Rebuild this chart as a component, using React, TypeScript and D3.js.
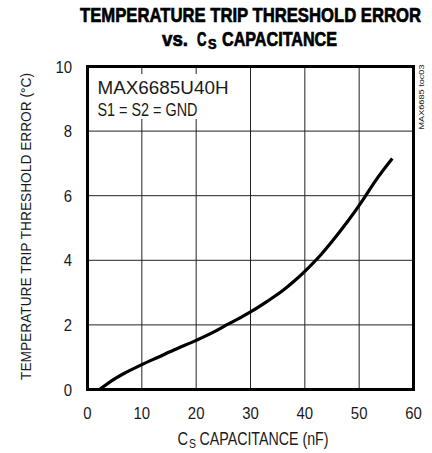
import { useEffect, useRef } from "react";
import * as d3 from "d3";

const W = 432;
const H = 453;
const margin = { top: 66.5, bottom: 63.5, left: 87.5, right: 18.5 };

const X_TICKS: number[] = [0, 10, 20, 30, 40, 50, 60];
const Y_TICKS: number[] = [0, 2, 4, 6, 8, 10];

// curve: Cs (nF) vs trip threshold error (°C)
const CS_NF: number[] = [2.2, 5, 7, 10, 13, 16, 20, 23, 25.6, 28, 30, 33, 36, 38, 40, 43, 45, 48, 50, 51, 53, 56.1];
const ERR_C: number[] = [0, 0.33, 0.52, 0.77, 1.0, 1.23, 1.52, 1.76, 2.0, 2.21, 2.4, 2.72, 3.07, 3.35, 3.66, 4.18, 4.58, 5.23, 5.7, 5.95, 6.46, 7.15];

const FONT = "'Liberation Sans', Arial, sans-serif";
const INK = "#1a1a1a";

type Sel = d3.Selection<any, unknown, null, undefined>;

// text squeezed to a given width, to mimic the condensed face of the original
const ctext = (g: Sel, x: number, y: number, s: string, size: number, len: number, anchor = "start") =>
  g
    .append("text")
    .attr("x", x)
    .attr("y", y)
    .attr("text-anchor", anchor)
    .attr("textLength", len)
    .attr("lengthAdjust", "spacingAndGlyphs")
    .style("font-family", FONT)
    .style("font-size", `${size}px`)
    .attr("fill", INK)
    .text(s);

const App = () => {
  const svgRef = useRef<SVGSVGElement | null>(null);

  useEffect(() => {
    if (!svgRef.current) return;
    const svg = d3.select(svgRef.current);
    svg.selectAll("*").remove();

    const x = d3.scaleLinear().domain([0, 60]).range([margin.left, W - margin.right]);
    const y = d3.scaleLinear().domain([0, 10]).range([H - margin.bottom, margin.top]);

    const data = CS_NF.map((d, i) => ({ x: d, y: ERR_C[i] }));

    // title
    const title = svg
      .append("g")
      .style("font-weight", "bold")
      .attr("stroke", "black")
      .attr("stroke-width", 0.7);
    ctext(title, 80, 22, "TEMPERATURE TRIP THRESHOLD ERROR", 21, 341).attr("fill", "black");
    ctext(title, 162, 46, "vs.", 20, 26).attr("fill", "black");
    ctext(title, 197, 46, "C", 20, 9.5).attr("fill", "black");
    ctext(title, 208, 48.5, "S", 14, 8.5).attr("fill", "black");
    ctext(title, 222, 46, "CAPACITANCE", 20, 115).attr("fill", "black");

    // grid
    const grid = svg.append("g").attr("stroke", "#222").attr("stroke-width", 1);
    grid
      .selectAll("line.v")
      .data(X_TICKS.slice(1, -1))
      .join("line")
      .attr("class", "v")
      .attr("x1", (d) => x(d))
      .attr("x2", (d) => x(d))
      .attr("y1", y(10))
      .attr("y2", y(0));
    grid
      .selectAll("line.h")
      .data(Y_TICKS.slice(1, -1))
      .join("line")
      .attr("class", "h")
      .attr("x1", x(0))
      .attr("x2", x(60))
      .attr("y1", (d) => y(d))
      .attr("y2", (d) => y(d));

    // white box behind the label text
    svg
      .append("rect")
      .attr("x", 93)
      .attr("y", 74)
      .attr("width", 140)
      .attr("height", 45)
      .attr("fill", "white");

    const lbl = svg.append("g");
    ctext(lbl, 97.5, 94, "MAX6685U40H", 18, 131);
    ctext(lbl, 97.5, 116, "S1 = S2 = GND", 18, 100);

    // frame
    svg
      .append("rect")
      .attr("x", x(0))
      .attr("y", y(10))
      .attr("width", x(60) - x(0))
      .attr("height", y(0) - y(10))
      .attr("fill", "none")
      .attr("stroke", "black")
      .attr("stroke-width", 3);

    // curve
    const line = d3
      .line<{ x: number; y: number }>()
      .x((d) => x(d.x))
      .y((d) => y(d.y))
      .curve(d3.curveMonotoneX);
    svg
      .append("path")
      .datum(data)
      .attr("fill", "none")
      .attr("stroke", "black")
      .attr("stroke-width", 3.2)
      .attr("d", line);

    // tick labels
    const tick = svg.append("g");
    X_TICKS.forEach((d) => ctext(tick, x(d), 419, String(d), 17, 8.3 * String(d).length, "middle"));
    Y_TICKS.forEach((d) => ctext(tick, 72, y(d) + 6, String(d), 17, 8.3 * String(d).length, "end"));

    // axis titles
    const xl = svg.append("g");
    ctext(xl, 177.5, 445, "C", 18, 10.5);
    ctext(xl, 189, 448, "S", 12, 7);
    ctext(xl, 199.5, 445, "CAPACITANCE (nF)", 18, 129);

    const yl = svg.append("g").attr("transform", `translate(31, ${(73 + 380) / 2}) rotate(-90)`);
    ctext(yl, 0, 0, "TEMPERATURE TRIP THRESHOLD ERROR (°C)", 15, 307, "middle");

    const note = svg.append("g").attr("transform", `translate(423.5, 97) rotate(-90)`);
    ctext(note, 0, 0, "MAX6685 toc03", 8, 65, "middle");
  }, []);

  return (
    <div className="app">
      <svg ref={svgRef} width={W} height={H} style={{ position: "absolute", left: 0, top: 0, background: "white" }} />
    </div>
  );
};

export default App;
